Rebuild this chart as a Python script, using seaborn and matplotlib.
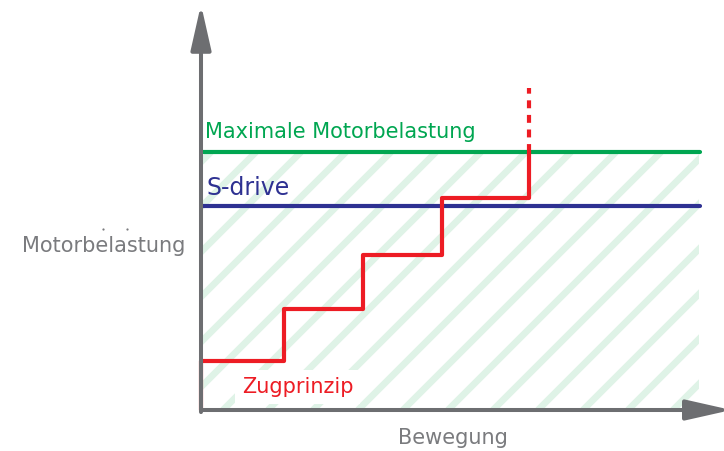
import numpy as np
import pandas as pd
import matplotlib
matplotlib.use("Agg")
import matplotlib.pyplot as plt
from matplotlib.patches import Rectangle
import seaborn as sns

# ---- data ----
step_x = [0.0, 1.0, 1.95, 2.9, 3.95]        # positions of the risers (Bewegung)
step_levels = [0.95, 1.95, 3.0, 4.1, 5.0]   # load levels (Motorbelastung)
dashed_top = 6.25
max_load = 5.0
sdrive_load = 3.95
x_end = 6.01
x_axis_max = 6.39
y_axis_max = 7.86

labels = {
    "max": "Maximale Motorbelastung",
    "sdrive": "S-drive",
    "zug": "Zugprinzip",
    "ylabel": "Motorbelastung",
    "xlabel": "Bewegung",
}

# ---- style ----
GREEN = "#00a651"
NAVY = "#2e3192"
RED = "#ed1c24"
GRAY = "#6d6e71"
TEXT_GRAY = "#7a7b7e"
STRIPE = "#dff3e7"

sns.set_theme(style="white")
plt.rcParams["font.family"] = ["DejaVu Sans"]

# layout: pixels per data unit
PX_X = 83.0
PX_Y = 51.6
X0_PX, Y0_PX = 201, 410
W, H = 724, 451

fig = plt.figure(figsize=(W / 100, H / 100), dpi=100)
ax = fig.add_axes([0, 0, 1, 1])
ax.set_xlim(-X0_PX / PX_X, (W - X0_PX) / PX_X)
ax.set_ylim(-(H - Y0_PX) / PX_Y, Y0_PX / PX_Y)
ax.axis("off")

# ---- hatched zone below max load ----
clip = Rectangle((0, 0), x_end - 0.01, max_load, facecolor="none", edgecolor="none")
ax.add_patch(clip)
ys = np.array([0.0, max_load])
for m in range(-20, 30):
    c = 22 + 45 * m  # stripe offsets in pixels (45 px spacing, 45 degrees)
    xs = (c + PX_Y * ys) / PX_X
    ln, = ax.plot(xs, ys, color=STRIPE, lw=4.8, solid_capstyle="butt", zorder=1)
    ln.set_clip_path(clip)

# ---- horizontal reference lines ----
ref = pd.DataFrame({
    "x": [0, x_end, 0, x_end],
    "y": [max_load, max_load, sdrive_load, sdrive_load],
    "line": ["max", "max", "sdrive", "sdrive"],
})
sns.lineplot(data=ref, x="x", y="y", hue="line", palette={"max": GREEN, "sdrive": NAVY},
             lw=3.0, legend=False, ax=ax, zorder=3, estimator=None, sort=False)

# ---- step curve (Zugprinzip) ----
steps = pd.DataFrame({"x": [0.0] + step_x, "y": [0.0] + step_levels})
sns.lineplot(data=steps, x="x", y="y", color=RED, lw=3.0, drawstyle="steps-post",
             estimator=None, sort=False, ax=ax, zorder=4)
dash = pd.DataFrame({"x": [step_x[-1], step_x[-1]], "y": [step_levels[-1], dashed_top]})
sns.lineplot(data=dash, x="x", y="y", color=RED, lw=3.0, estimator=None, sort=False,
             ax=ax, zorder=4, linestyle=(0, (1.9, 1.6)))

# ---- axes arrows ----
arrow_kw = dict(arrowstyle="-|>,head_length=2.75,head_width=0.62", mutation_scale=10,
                lw=2.9, color=GRAY, shrinkA=0, shrinkB=0)
ax.annotate("", xy=(0, y_axis_max), xytext=(0, -0.04), arrowprops=arrow_kw, zorder=5,
            annotation_clip=False)
ax.annotate("", xy=(x_axis_max, 0), xytext=(0, 0), arrowprops=arrow_kw, zorder=5,
            annotation_clip=False)

# ---- texts ----
ax.text(0.05, 5.27, labels["max"], color=GREEN, fontsize=15, va="baseline", ha="left")
ax.text(0.07, 4.17, labels["sdrive"], color=NAVY, fontsize=17, va="baseline", ha="left")
ax.text(0.49, 0.33, labels["zug"], color=RED, fontsize=15, va="baseline", ha="left",
        zorder=3, bbox=dict(facecolor="white", edgecolor="none", pad=5))
ax.text(-0.19, 3.06, labels["ylabel"], color=TEXT_GRAY, fontsize=15, va="baseline", ha="right")
ax.plot([-1.175, -0.886], [3.5, 3.5], "o", color=TEXT_GRAY, ms=1.6, mew=0)
ax.text(3.04, -0.66, labels["xlabel"], color=TEXT_GRAY, fontsize=15, va="baseline", ha="center")

fig.savefig("out.png", dpi=100, facecolor="white")
